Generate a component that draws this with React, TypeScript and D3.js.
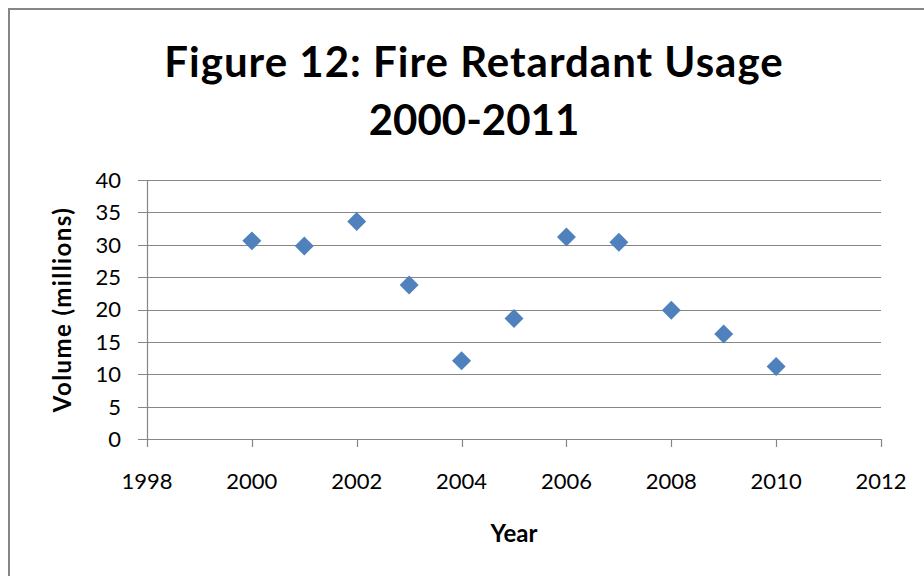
import React from 'react';
import * as d3 from 'd3';

// values
const years = [2000, 2001, 2002, 2003, 2004, 2005, 2006, 2007, 2008, 2009, 2010];
const volumes = [30.6, 29.8, 33.6, 23.8, 12.1, 18.6, 31.2, 30.4, 19.9, 16.2, 11.2];
const xTicks = [1998, 2000, 2002, 2004, 2006, 2008, 2010, 2012];
const yTicks = [0, 5, 10, 15, 20, 25, 30, 35, 40];
const titleLines = ['Figure 12: Fire Retardant Usage', '2000-2011'];

const W = 924;
const H = 576;
const plot = { left: 147, right: 881, top: 180, bottom: 439 };
const font = 'Lato, "Open Sans", sans-serif';
const gridColor = '#868686';
const markColor = '#4F81BD';

const App = () => {
  const x = d3.scaleLinear().domain([1998, 2012]).range([plot.left, plot.right]);
  const y = d3.scaleLinear().domain([0, 40]).range([plot.bottom, plot.top]);
  const diamond = d3.symbol().type(d3.symbolSquare).size(180)();

  return (
    <svg
      width={W}
      height={H}
      style={{ position: 'absolute', left: 0, top: 0, background: '#fff' }}
      fontFamily={font}
    >
      {/* chart frame, runs off the right and bottom like in the source */}
      <rect x={9} y={9} width={W + 20} height={H + 20} fill="#fff" stroke={gridColor} strokeWidth={2} />

      {titleLines.map((t, i) => (
        <text
          key={t}
          x={(plot.left + plot.right) / 2 - 40}
          y={77 + i * 58}
          textAnchor="middle"
          fontSize={42}
          fontWeight="bold"
          letterSpacing={i === 0 ? 1 : 0}
          fill="#000"
        >
          {t}
        </text>
      ))}

      {/* horizontal grid + y ticks */}
      {yTicks.map((t) => (
        <g key={t}>
          <line
            x1={plot.left - 9}
            x2={plot.right}
            y1={Math.round(y(t)) + 0.5}
            y2={Math.round(y(t)) + 0.5}
            stroke={gridColor}
            strokeWidth={1.2}
          />
          <text x={121} y={y(t)} dy="0.36em" textAnchor="end" fontSize={22} fill="#000">
            {t}
          </text>
        </g>
      ))}

      {/* y axis line */}
      <line x1={plot.left + 0.5} x2={plot.left + 0.5} y1={plot.top} y2={plot.bottom} stroke={gridColor} strokeWidth={1.2} />

      {/* x ticks */}
      {xTicks.map((t) => (
        <g key={t}>
          <line
            x1={Math.round(x(t)) + 0.5}
            x2={Math.round(x(t)) + 0.5}
            y1={plot.bottom}
            y2={plot.bottom + 8}
            stroke={gridColor}
            strokeWidth={1.2}
          />
          <text x={x(t)} y={481} dy="0.36em" textAnchor="middle" fontSize={22} fill="#000">
            {t}
          </text>
        </g>
      ))}

      {/* points */}
      {years.map((yr, i) => (
        <path
          key={yr}
          d={diamond}
          transform={`translate(${x(yr)},${y(volumes[i])}) rotate(45)`}
          fill={markColor}
        />
      ))}

      <text
        transform={`translate(62,${(plot.top + plot.bottom) / 2}) rotate(-90)`}
        textAnchor="middle"
        dy="0.36em"
        fontSize={24}
        letterSpacing={1.4}
        fontWeight="bold"
        fill="#000"
      >
        Volume (millions)
      </text>
      <text x={(plot.left + plot.right) / 2} y={533} dy="0.36em" textAnchor="middle" fontSize={24} fontWeight="bold" fill="#000">
        Year
      </text>
    </svg>
  );
};

export default App;
